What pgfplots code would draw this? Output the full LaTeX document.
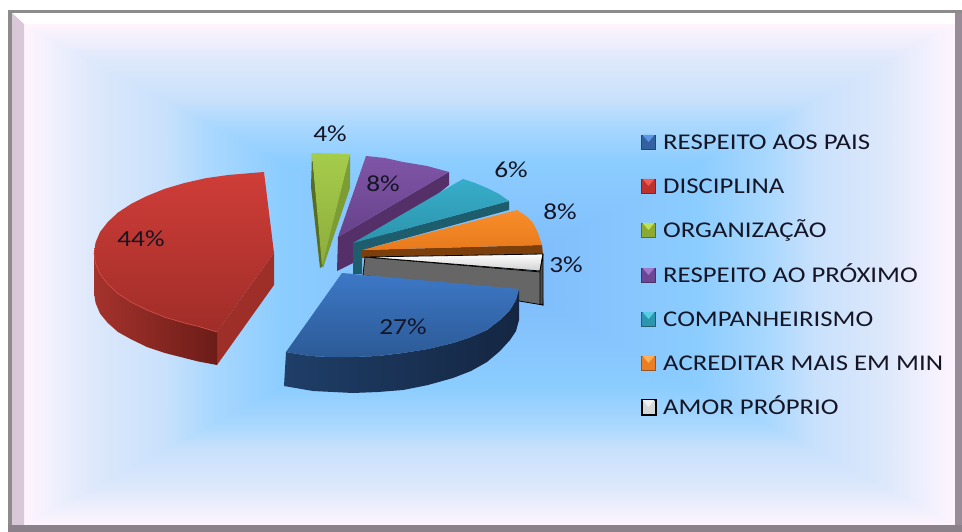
\documentclass[border=0pt]{standalone}
\usepackage{fontspec}
\setmainfont{Carlito}
\newfontfamily\wide[FakeStretch=1.19]{Carlito}
\usepackage{pgfplots}
\pgfplotsset{compat=1.18}
\definecolor{txt}{HTML}{151525}
% legend key: y-top, body colour, cap colour, dark edge colour, edge width
\newcommand{\legkey}[5]{%
  \pgfmathsetmacro{\ya}{#1}\pgfmathsetmacro{\yb}{#1+14.5}\pgfmathsetmacro{\ym}{#1+7}%
  \edef\tmp{\noexpand\addplot[fill=#2,draw=#4,line width=#5] coordinates {(641.5,\ya) (655.5,\ya) (655.5,\yb) (641.5,\yb)} -- cycle;
  \noexpand\addplot[fill=#3,draw=none] coordinates {(642.5,\ya) (654.5,\ya) (648.5,\ym)} -- cycle;}\tmp}
\begin{document}
\begin{tikzpicture}
\begin{axis}[at={(0pt,0pt)},anchor=south west,scale only axis,width=962pt,height=532pt,
  xmin=0,xmax=962,ymin=0,ymax=532,y dir=reverse,hide axis,clip=false,
  colormap={bgmap}{rgb255(0pt)=(125,185,251); rgb255(9pt)=(140,205,255); rgb255(12pt)=(170,216,254); rgb255(14pt)=(201,225,252); rgb255(17pt)=(221,232,251); rgb255(19pt)=(243,241,253); rgb255(20pt)=(255,244,254)},
  point meta min=0,point meta max=1]
% background gradient
\addplot[patch,patch type=triangle,shader=interp,point meta=explicit] table[x=x,y=y,meta=c] {
x y c
490 275 0
24 24 1
955 24 1
490 275 0
955 24 1
955 525 1
490 275 0
955 525 1
24 525 1
490 275 0
24 525 1
24 24 1
};
% frame
\addplot[fill=white,draw=none] coordinates {(12,13) (962,13) (955,24) (24,24)} -- cycle;
\addplot[fill=white,draw=none] coordinates {(0,0) (962,0) (962,10) (0,10)} -- cycle;
\addplot[fill=white,draw=none] coordinates {(0,0) (8,0) (8,532) (0,532)} -- cycle;
\addplot[fill=black!45,draw=none] coordinates {(8,10) (962,10) (962,13) (8,13)} -- cycle;
\addplot[fill=black!45,draw=none] coordinates {(8,10) (12,10) (12,532) (8,532)} -- cycle;
\addplot[fill={rgb,255:red,216;green,200;blue,216},draw=none] coordinates {(12,13) (24,24) (24,525) (12,525)} -- cycle;
\addplot[fill={rgb,255:red,151;green,140;blue,151},draw=none] coordinates {(955,13) (962,13) (962,532) (955,532)} -- cycle;
\addplot[fill={rgb,255:red,139;green,129;blue,139},draw=none] coordinates {(8,525) (962,525) (962,532) (8,532)} -- cycle;
% purple 8%
\addplot[fill={rgb,255:red,85;green,48;blue,104},draw=none] coordinates {(338,237) (449,172) (449,185) (353,263) (337,271)} -- cycle;
\addplot[draw=none,top color={rgb,255:red,128;green,85;blue,168},bottom color={rgb,255:red,102;green,66;blue,138}] coordinates {(366,156) (385,158) (403,162) (427,166) (449,172) (338,237)} -- cycle;
% green 4%
\addplot[fill={rgb,255:red,88;green,108;blue,36},draw=none] coordinates {(312,154) (311,187) (320,268) (323,266)} -- cycle;
\addplot[fill={rgb,255:red,124;green,156;blue,52},draw=none] coordinates {(350,154) (350,188) (323,268) (322,262)} -- cycle;
\addplot[draw=none,top color={rgb,255:red,166;green,204;blue,75},bottom color={rgb,255:red,140;green,172;blue,60}] coordinates {(312,153) (350,154) (322,266)} -- cycle;
% teal 6%
\addplot[fill={rgb,255:red,29;green,93;blue,109},draw=none] coordinates {(353,243) (509,201) (509,210) (362,250) (362,274) (353,274)} -- cycle;
\addplot[draw=none,top color={rgb,255:red,55;green,173;blue,201},bottom color={rgb,255:red,44;green,148;blue,173}] coordinates {(463,179) (475,183) (487,188) (499,194) (509,201) (353,243)} -- cycle;
% orange 8%
\addplot[fill={rgb,255:red,124;green,63;blue,12},draw=none] coordinates {(362,250) (542,245) (543,255) (362,258)} -- cycle;
\addplot[draw=none,top color={rgb,255:red,249;green,141;blue,42},bottom color={rgb,255:red,232;green,122;blue,28}] coordinates {(517,210) (526,216) (533,223) (538,233) (542,245) (362,250)} -- cycle;
% grey / white 3%
\addplot[fill={rgb,255:red,102;green,102;blue,102},draw=black,line width=0.8pt] coordinates {(365,257) (541,272) (543,305) (363,275)} -- cycle;
\addplot[draw=black,line width=0.8pt,top color=white,bottom color={rgb,255:red,208;green,208;blue,208}] coordinates {(365,257) (543,254) (540,271)} -- cycle;
\addplot[fill=black!70,draw=black,line width=0.8pt] coordinates {(543,254) (543,305) (540,304) (540,271)} -- cycle;
% red 44%
\addplot[fill={rgb,255:red,158;green,46;blue,40},draw=none] coordinates {(274,253) (274,285) (217,365) (217,332)} -- cycle;
\addplot[draw=none,left color={rgb,255:red,165;green,50;blue,44},right color={rgb,255:red,108;green,28;blue,24}] coordinates {(94,253) (95.6,263.6) (100,274) (107.8,284) (118,293.5) (131.5,302.3) (147,310) (164.8,317.2) (184.5,323) (198.4,326.4) (217,332) (217,365) (198.4,361.5) (184.5,358) (164.8,353) (147,347) (131.5,339.5) (118,332) (107.8,323) (100,313.5) (95.6,303) (94,293)} -- cycle;
\addplot[draw=none,top color={rgb,255:red,207;green,61;blue,56},bottom color={rgb,255:red,160;green,45;blue,40}] coordinates {(264,172) (228,175) (205.7,178.2) (184.5,183) (164.8,188.8) (147,196) (131.5,203.7) (118,212.5) (107.8,222) (100,232) (95.6,242.4) (94,253) (95.6,263.6) (100,274) (107.8,284) (118,293.5) (131.5,302.3) (147,310) (164.8,317.2) (184.5,323) (198.4,326.4) (217,332) (274,253)} -- cycle;
\addplot[draw={rgb,255:red,205;green,75;blue,70},line width=0.7pt] coordinates {(94,253) (95.6,263.6) (100,274) (107.8,284) (118,293.5) (131.5,302.3) (147,310) (164.8,317.2) (184.5,323) (198.4,326.4) (217,332)};
% blue 27%
\addplot[draw=none,left color={rgb,255:red,31;green,62;blue,104},right color={rgb,255:red,20;green,38;blue,66}] coordinates {(286,352) (310,356) (330,357) (353,357) (378,356) (403,353) (428,349) (453,343) (471,337) (487,330) (500,320) (510,310) (516,300) (519,289) (519,320) (516,331) (510,340) (500,351) (487,362) (471,371) (453,378) (428,385) (403,390) (378,392) (353,393) (313,391) (284,386)} -- cycle;
\addplot[draw=none,top color={rgb,255:red,61;green,120;blue,198},bottom color={rgb,255:red,44;green,90;blue,150}] coordinates {(342,273) (519,289) (516,300) (510,310) (500,320) (487,330) (471,337) (453,343) (428,349) (403,353) (378,356) (353,357) (330,357) (310,356) (286,352)} -- cycle;
% data labels
\begin{scope}[every node/.style={text=txt,font=\wide\fontsize{23}{24}\selectfont,inner sep=0pt}]
\node at (axis cs:330,134) {4\%};
\node at (axis cs:383,184) {8\%};
\node at (axis cs:511,170) {6\%};
\node at (axis cs:560,212) {8\%};
\node at (axis cs:566,265) {3\%};
\node at (axis cs:403,327) {27\%};
\node at (axis cs:141,239) {44\%};
\end{scope}
% legend
\legkey{135}{{rgb,255:red,50;green,96;blue,160}}{{rgb,255:red,90;green,150;blue,225}}{{rgb,255:red,40;green,70;blue,110}}{0.8pt}
\legkey{179}{{rgb,255:red,190;green,50;blue,46}}{{rgb,255:red,240;green,90;blue,85}}{{rgb,255:red,120;green,40;blue,38}}{0.8pt}
\legkey{223}{{rgb,255:red,140;green,170;blue,50}}{{rgb,255:red,190;green,225;blue,90}}{{rgb,255:red,90;green,110;blue,40}}{0.8pt}
\legkey{268}{{rgb,255:red,110;green,70;blue,150}}{{rgb,255:red,160;green,120;blue,205}}{{rgb,255:red,75;green,50;blue,100}}{0.8pt}
\legkey{312}{{rgb,255:red,45;green,150;blue,175}}{{rgb,255:red,85;green,205;blue,230}}{{rgb,255:red,35;green,95;blue,115}}{0.8pt}
\legkey{356}{{rgb,255:red,235;green,125;blue,35}}{{rgb,255:red,255;green,175;blue,90}}{{rgb,255:red,150;green,85;blue,30}}{0.8pt}
\legkey{400}{{rgb,255:red,215;green,215;blue,215}}{{rgb,255:red,240;green,240;blue,240}}{black}{2pt}
\begin{scope}[every node/.style={text=txt,font=\wide\fontsize{22.5}{24}\selectfont,anchor=base west,inner sep=0pt}]
\node at (axis cs:663,150) {RESPEITO AOS PAIS};
\node at (axis cs:663,194) {DISCIPLINA};
\node at (axis cs:663,237) {ORGANIZAÇÃO};
\node at (axis cs:663,282) {RESPEITO AO PRÓXIMO};
\node at (axis cs:663,326) {COMPANHEIRISMO};
\node at (axis cs:663,370) {ACREDITAR MAIS EM MIN};
\node at (axis cs:663,414) {AMOR PRÓPRIO};
\end{scope}
\end{axis}
\end{tikzpicture}
\end{document}
